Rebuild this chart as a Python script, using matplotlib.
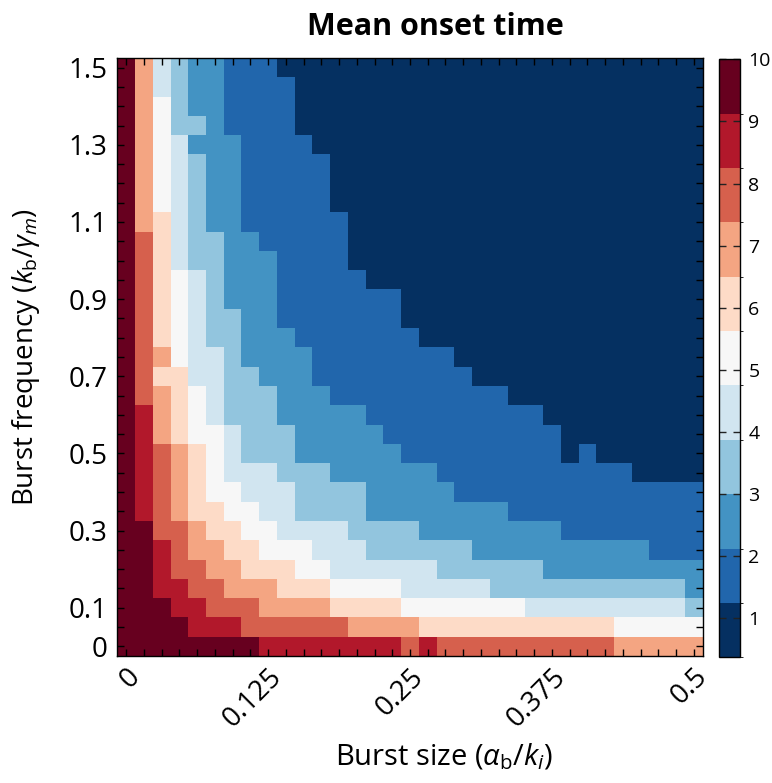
import numpy as np
import matplotlib
matplotlib.use("Agg")
import matplotlib.pyplot as plt
from matplotlib.colors import ListedColormap, BoundaryNorm

plt.rcParams['font.family'] = ['Open Sans', 'DejaVu Sans']
plt.rcParams['mathtext.fontset'] = 'custom'
plt.rcParams['mathtext.rm'] = 'Open Sans'
plt.rcParams['mathtext.it'] = 'Open Sans:italic'
plt.rcParams['mathtext.bf'] = 'Open Sans:bold'

# ---- data -------------------------------------------------------------
burst_size = np.linspace(0.0, 0.5, 33)          # alpha_b / k_i (columns)
burst_freq = np.round(np.linspace(0.0, 1.5, 31), 2)  # k_b / gamma_m (rows)

x_tick_values = [0.0, 0.125, 0.25, 0.375, 0.5]
x_tick_labels = ['0', '0.125', '0.25', '0.375', '0.5']
y_tick_values = [0.0, 0.1, 0.3, 0.5, 0.7, 0.9, 1.1, 1.3, 1.5]
y_tick_labels = ['0', '0.1', '0.3', '0.5', '0.7', '0.9', '1.1', '1.3', '1.5']

cbar_ticks = [1, 2, 3, 4, 5, 6, 7, 8, 9, 10]
color_bounds = [0.375, 1.25, 2.125, 3.0, 3.875, 4.75, 5.625, 6.5, 7.375, 8.25, 9.125, 10.0]
level_colors = ['#053061', '#2166ac', '#4393c3', '#92c5de', '#d1e5f0', '#f7f7f7',
                '#fddbc7', '#f4a582', '#d6604d', '#b2182b', '#67001f']
# representative onset time for each colour class (0..10 -> 'A' is class 10)
level_values = [0.8, 1.7, 2.6, 3.4, 4.3, 5.2, 6.1, 6.9, 7.8, 8.7, 9.6]

# rows from top (burst freq 1.5) to bottom (burst freq 0); one char per column
onset_rows = [
    "A74322111 000000000000000000000000",
    "A743221111 00000000000000000000000",
    "A753221111 00000000000000000000000",
    "A753321111 00000000000000000000000",
    "A7542221111 0000000000000000000000",
    "A75432211111 000000000000000000000",
    "A75432211111 000000000000000000000",
    "A75432211111 000000000000000000000",
    "A764322111111 00000000000000000000",
    "A864332211111 00000000000000000000",
    "A864332221111 00000000000000000000",
    "A8654322211111 0000000000000000000",
    "A865432221111111 00000000000000000",
    "A865433221111111 00000000000000000",
    "A8654332221111111 0000000000000000",
    "A8754432222 11111111 00000000000000",
    "A86644332 22111111 111 0000000000000",
    "A87654333 22211111 11111 00000000000",
    "A97654333 22222111 1111111 000000000",
    "A97655433 32222211 11111111 00000000",
    "A98765433 32222221 11111111 0 1 000000",
    "A98765444 33322222 2 11111111111 0000",
    "A98765544 43333222 22 11111111111111",
    "A98766554 43333222 22222 11111111111",
    "AA8876655 44443333 22222222 11111111",
    "AA9877665 55444333 333 2222222222 111",
    "AA9887766 65544444 4 333333 222222222",
    "AA9988777 66655554 4444 33333333333 2",
    "AAA998887 77766665 555555 444444444 3",
    "AAAA99988 88887777 66666666666 55555",
    "AAAAAAAA9 9999999 8 9 8888888888 77777",
]

level_grid = []
for row in onset_rows:
    chars = "".join(row.split())
    assert len(chars) == 33, (row, len(chars))
    level_grid.append([int(c, 16) for c in chars])
onset_time = np.array([[level_values[k] for k in r] for r in level_grid])[::-1]

# ---- figure -----------------------------------------------------------
W, H = 772, 783
fig = plt.figure(figsize=(W / 100, H / 100), dpi=100)

ax_l, ax_r, ax_t, ax_b = 117.3, 702.7, 58.0, 656.0
ax = fig.add_axes([ax_l / W, 1 - ax_b / H, (ax_r - ax_l) / W, (ax_b - ax_t) / H])

cmap = ListedColormap(level_colors)
norm = BoundaryNorm(color_bounds, cmap.N)

dx = burst_size[1] - burst_size[0]
dy = burst_freq[1] - burst_freq[0]
x_edges = np.concatenate([burst_size - dx / 2, [burst_size[-1] + dx / 2]])
y_edges = np.concatenate([burst_freq - dy / 2, [burst_freq[-1] + dy / 2]])
mesh = ax.pcolormesh(x_edges, y_edges, onset_time, cmap=cmap, norm=norm,
                     shading='flat', antialiased=False, linewidth=0)
ax.set_xlim(x_edges[0], x_edges[-1])
ax.set_ylim(y_edges[0], y_edges[-1])

ax.set_xticks(x_tick_values)
ax.set_xticklabels(x_tick_labels, rotation=45, ha='right', va='top',
                   rotation_mode='anchor', fontsize=20)
ax.set_xticks(burst_size, minor=True)
ax.set_yticks(y_tick_values)
ax.set_yticklabels(y_tick_labels, fontsize=20)
ax.set_yticks(burst_freq, minor=True)
ax.tick_params(which='both', direction='in', top=True, right=True,
               length=5, width=1, color='black')
ax.tick_params(axis='x', which='major', pad=5)
ax.tick_params(axis='y', which='major', pad=7)
for s in ax.spines.values():
    s.set_linewidth(1.0)

ax.set_ylabel(r'Burst frequency ($k_\mathrm{b}/\gamma_m$)', fontsize=20)
ax.yaxis.set_label_coords(-0.128, 0.5)

fig.text(444 / W, 1 - 757 / H, r'Burst size ($\alpha_\mathrm{b}/k_i$)',
         ha='center', va='center', fontsize=21)
fig.text(435 / W, 1 - 27 / H, 'Mean onset time', ha='center', va='center',
         fontsize=22, fontweight='bold')

# ---- colorbar ---------------------------------------------------------
cb_l, cb_r, cb_t, cb_b = 719.3, 740.0, 59.3, 657.3
cax = fig.add_axes([cb_l / W, 1 - cb_b / H, (cb_r - cb_l) / W, (cb_b - cb_t) / H])
cbar = fig.colorbar(mesh, cax=cax, ticks=cbar_ticks, spacing='proportional')
cbar.ax.tick_params(direction='in', left=True, right=True, length=5, width=1,
                    labelsize=14, pad=6, color='#222222')
cbar.outline.set_linewidth(1.0)

fig.savefig('out.png', dpi=100)
